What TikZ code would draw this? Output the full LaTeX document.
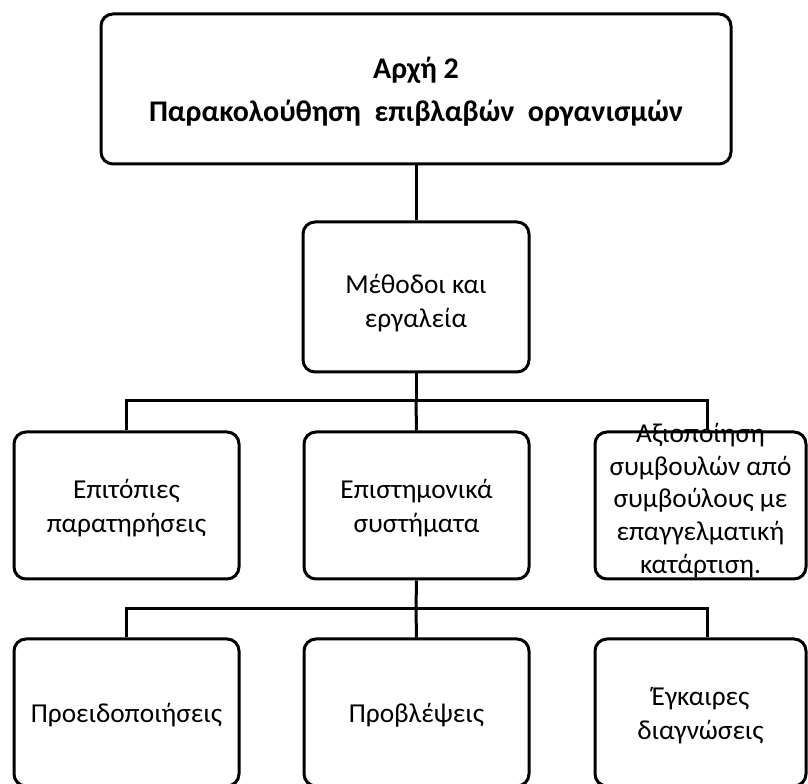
\documentclass[tikz,border=0pt]{standalone}
\usepackage{fontspec}
\setmainfont{Carlito}
\begin{document}
\begin{tikzpicture}[x=0.75pt,y=-0.75pt,
  box/.style={draw=black, line width=2.25pt, rounded corners=9pt,
    fill=white, inner sep=0pt},
  txt/.style={align=center, inner sep=0pt,
    font=\fontsize{20.5}{25.5}\selectfont},
  link/.style={draw=black, line width=2.25pt}]
\useasboundingbox (0,0) rectangle (808,784);
\clip (0,0) rectangle (808,784);

% title box
\node[box, minimum width=630*0.75pt, minimum height=150*0.75pt] (title) at (416,89) {};
\node[txt, font=\fontsize{22.5}{32.5}\selectfont\bfseries] (titleText) at ([yshift=-3*0.75pt]title.center)
  {Αρχή 2\\Παρακολούθηση\ \ επιβλαβών\ \ οργανισμών};

% second level
\node[box, minimum width=226*0.75pt, minimum height=150*0.75pt] (methods) at (416,297) {};
\node[txt] (methodsText) at ([yshift=-6*0.75pt]methods.center) {Μέθοδοι και\\εργαλεία};

% third level
\node[box, minimum width=225*0.75pt, minimum height=147*0.75pt] (field) at (126.5,505.5) {};
\node[txt] (fieldText) at ([yshift=-3*0.75pt]field.center) {Επιτόπιες\\παρατηρήσεις};
\node[box, minimum width=225*0.75pt, minimum height=147*0.75pt] (science) at (416.5,505.5) {};
\node[txt] (scienceText) at ([yshift=-3*0.75pt]science.center) {Επιστημονικά\\συστήματα};
\node[box, minimum width=211*0.75pt, minimum height=147*0.75pt] (advice) at (700.5,505.5) {};
\node[txt, font=\fontsize{20.5}{24.5}\selectfont] (adviceText) at ([yshift=5*0.75pt]advice.center)
  {Αξιοποίηση\\συμβουλών από\\συμβούλους με\\επαγγελματική\\κατάρτιση.};

% fourth level
\node[box, minimum width=225*0.75pt, minimum height=147*0.75pt] (warn) at (126.5,712.5) {};
\node[txt] (warnText) at ([yshift=-3*0.75pt]warn.center) {Προειδοποιήσεις};
\node[box, minimum width=225*0.75pt, minimum height=147*0.75pt] (forecast) at (416.5,712.5) {};
\node[txt] (forecastText) at ([yshift=-3*0.75pt]forecast.center) {Προβλέψεις};
\node[box, minimum width=211*0.75pt, minimum height=147*0.75pt] (diag) at (700.5,712.5) {};
\node[txt] (diagText) at ([yshift=-3*0.75pt]diag.center) {Έγκαιρες\\διαγνώσεις};

% connectors
\draw[link] (title.south) -- (methods.north);

\coordinate (busA) at (416,401);
\coordinate (busAr) at (707,401);
\draw[link] (methods.south) -- (busA);
\draw[link] (field.north) |- (busAr) -- (busAr |- advice.north);
\draw[link] (busA) -- (science.north);

\coordinate (busB) at (416,609);
\coordinate (busBr) at (707,609);
\draw[link] (science.south) -- (busB);
\draw[link] (warn.north) |- (busBr) -- (busBr |- diag.north);
\draw[link] (busB) -- (forecast.north);
\end{tikzpicture}
\end{document}
